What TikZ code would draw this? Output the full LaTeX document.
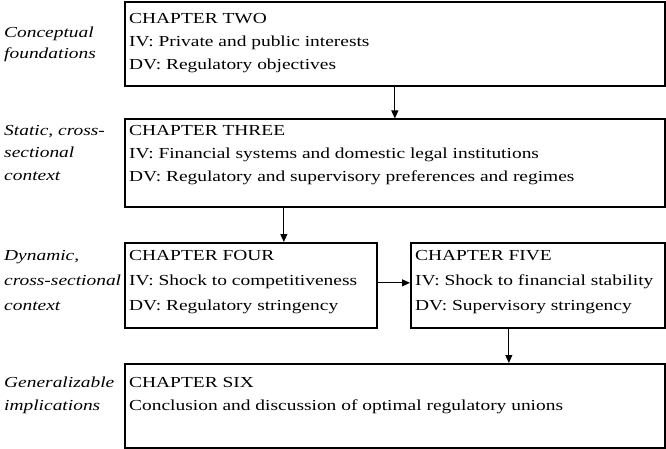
\documentclass[tikz,border=0pt]{standalone}
\usepackage{fontspec}
\setmainfont{Liberation Serif}[FakeStretch=1.27]
\usetikzlibrary{arrows.meta}
\begin{document}
\begin{tikzpicture}[x=1pt,y=1pt,
  chapbox/.style={draw, line width=1.7pt, inner sep=0pt, anchor=north west},
  txt/.style={anchor=north west, inner sep=0pt, align=left,
    font=\fontsize{15.3}{23}\selectfont},
  widetxt/.style={txt, font=\fontsize{15.3}{25}\selectfont},
  lbl/.style={anchor=north west, inner sep=0pt, align=left,
    font=\fontsize{15.3}{22.5}\selectfont\itshape},
  arr/.style={line width=1pt, -{Triangle[length=8pt,width=7pt]}}]
\useasboundingbox (0,0) rectangle (666,-449);

% chapter frames
\node[chapbox, minimum width=540pt, minimum height=83.5pt] (b1) at (124,-1.5) {};
\node[chapbox, minimum width=540pt, minimum height=87.5pt] (b2) at (124,-118.5) {};
\node[chapbox, minimum width=252pt, minimum height=85pt] (b4) at (124,-242) {};
\node[chapbox, minimum width=254pt, minimum height=85pt] (b5) at (410,-242) {};
\node[chapbox, minimum width=540pt, minimum height=84pt] (b6) at (124,-363) {};

% chapter contents
\node[txt] (t1) at (129,-13) {CHAPTER TWO\\IV: Private and public interests\\DV: Regulatory objectives};
\node[txt] (t2) at (129,-125) {CHAPTER THREE\\IV: Financial systems and domestic legal institutions\\DV: Regulatory and supervisory preferences and regimes};
\node[widetxt] (t4) at (129,-250) {CHAPTER FOUR\\IV: Shock to competitiveness\\DV: Regulatory stringency};
\node[widetxt] (t5) at (415,-250) {CHAPTER FIVE\\IV: Shock to financial stability\\DV: Supervisory stringency};
\node[txt] (t6) at (129,-377) {CHAPTER SIX\\Conclusion and discussion of optimal regulatory unions};

% stage labels
\node[lbl, font=\fontsize{15.3}{21}\selectfont\itshape] (l1) at (4,-27) {Conceptual\\foundations};
\node[lbl] (l2) at (4,-125) {Static, cross-\\sectional\\context};
\node[lbl, font=\fontsize{15.3}{25}\selectfont\itshape] (l4) at (4,-250) {Dynamic,\\cross-sectional\\context};
\node[lbl] (l6) at (4,-377) {Generalizable\\implications};

% flow between chapters
\draw[arr] (b1.south) -- (b2.north);
\draw[arr] ([xshift=33pt]b4.north |- b2.south) -- ([xshift=33pt]b4.north);
\draw[arr] ([yshift=2.5pt]b4.east) -- ([yshift=2.5pt]b5.west);
\draw[arr] ([xshift=-29pt]b5.south) -- ([xshift=-29pt]b5.south |- b6.north);
\end{tikzpicture}
\end{document}
